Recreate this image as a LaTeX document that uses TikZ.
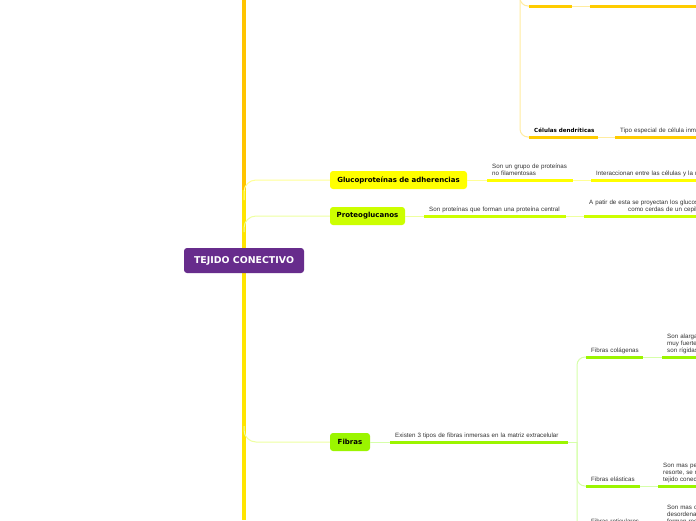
\documentclass[tikz,border=0pt]{standalone}
\usepackage{fontspec}
\setmainfont{Liberation Sans}
\newfontfamily\titlefont{DejaVu Sans}
\definecolor{purp}{RGB}{103,44,140}
\definecolor{trunkO}{RGB}{255,196,0}
\definecolor{trunkY}{RGB}{255,228,0}
\definecolor{cyel}{RGB}{255,255,0}
\definecolor{clime}{RGB}{204,255,0}
\definecolor{cgreen}{RGB}{155,245,0}
\definecolor{corange}{RGB}{255,204,0}
\definecolor{lyel}{RGB}{255,255,150}
\definecolor{llime}{RGB}{238,255,160}
\definecolor{lgreen}{RGB}{214,255,170}
\definecolor{lorange}{RGB}{255,236,160}
\definecolor{txt}{RGB}{51,51,51}
\begin{document}
\begin{tikzpicture}[x=1pt,y=-1pt,
  trunk/.style={line width=4pt},
  conn/.style={line width=1pt},
  bar/.style={line width=3pt},
  topic/.style={rounded corners=3pt, font=\titlefont\fontsize{7}{8}\selectfont\bfseries, text=black, inner sep=0pt, minimum height=18pt},
  sub/.style={anchor=south west, inner xsep=5pt, inner ysep=2.3pt, align=left, text width=#1, font=\fontsize{6.2}{7}\selectfont, text=txt, execute at end node=\strut},
  subb/.style={sub=#1, font=\titlefont\fontsize{5.6}{7}\selectfont\bfseries, text=black},
]
\useasboundingbox[fill=white] (0,0) rectangle (696,520);

% trunk
\coordinate (trTop) at (244,0);
\coordinate (trMid) at (244,190);
\coordinate (trBot) at (244,520);
\draw[trunk, trunkO] (trTop) -- (trMid);
\draw[trunk, trunkY] (trMid) -- (trBot);

% central node
\node[rounded corners=3pt, fill=purp, text=white, font=\titlefont\fontsize{9.4}{10}\selectfont\bfseries, minimum width=120pt, minimum height=25pt, inner sep=0pt] (root) at (244,260.5) {TEJIDO CONECTIVO};

% main topics
\node[topic, fill=cyel, minimum width=137pt] (glu) at (398.5,180) {Glucoproteínas de adherencias};
\node[topic, fill=clime, minimum width=75pt] (pro) at (367.5,216) {Proteoglucanos};
\node[topic, fill=cgreen, minimum width=40pt] (fib) at (350,442) {Fibras};

% trunk connectors
\coordinate (tg) at (244,200);
\coordinate (tp) at (244,232);
\coordinate (tf) at (244,426);
\draw[conn, lyel, rounded corners=12pt] (tg) |- (glu.west);
\draw[conn, llime, rounded corners=12pt] (tp) |- (pro.west);
\draw[conn, llime, rounded corners=12pt] (tf) |- (fib.west);

% Glucoproteinas children
\node[sub=76pt] (g1) at (487,180) {Son un grupo de proteínas\\no filamentosas};
\node[sub=250pt] (g2) at (591,180) {Interaccionan entre las células y la matriz extracelular};
\draw[conn, lyel] (glu.east) -- (g1.south west);
\draw[conn, lyel] (g1.south east) -- (g2.south west);
\draw[bar, cyel] (g1.south west) -- (g1.south east);
\draw[bar, cyel] (g2.south west) -- (g2.south east);

% Proteoglucanos children
\node[sub=132pt] (p1) at (424,216) {Son proteínas que forman una proteína central};
\node[sub=250pt] (p2) at (584,216) {A patir de esta se proyectan los glucosaminoglucanos\\\hspace*{39pt}como cerdas de un cepillo};
\draw[conn, llime] (pro.east) -- (p1.south west);
\draw[conn, llime] (p1.south east) -- (p2.south west);
\draw[bar, clime] (p1.south west) -- (p1.south east);
\draw[bar, clime] (p2.south west) -- (p2.south east);

% Fibras children
\node[sub=168pt] (f1) at (390,442) {Existen 3 tipos de fibras inmersas en la matriz extracelular};
\draw[conn, lgreen] (fib.east) -- (f1.south west);
\draw[bar, cgreen] (f1.south west) -- (f1.south east);
\coordinate (fj) at (577,442);
\node[sub=47pt] (fc) at (586,357) {\mbox{Fibras colágenas}};
\node[sub=44pt] (fe) at (586,486) {\mbox{Fibras elásticas}};
\node[sub=50pt] (fr) at (586,528) {\mbox{Fibras reticulares}};
\draw[conn, lgreen] (f1.south east) -- (fj);
\draw[conn, lgreen, rounded corners=8pt] (fc.south west) -| (fj);
\draw[conn, lgreen, rounded corners=8pt] (fj) |- (fe.south west);
\draw[conn, lgreen, rounded corners=8pt] (fj) |- (fr.south west);
\node[sub=100pt] (fc2) at (662,357) {Son alargadas y\\muy fuertes,\\son rígidas};
\node[sub=100pt] (fe2) at (658,486) {Son mas pequeñas, como un\\resorte, se rompen\\tejido conectivo};
\node[sub=100pt] (fr2) at (662,528) {Son mas cortas y\\desordenadas,\\forman redes};
\draw[conn, lgreen] (fc.south east) -- (fc2.south west);
\draw[conn, lgreen] (fe.south east) -- (fe2.south west);
\draw[conn, lgreen] (fr.south east) -- (fr2.south west);
\foreach \n in {fc,fe,fr,fc2,fe2,fr2} \draw[bar, cgreen] (\n.south west) -- (\n.south east);

% top subtree
\coordinate (tt) at (520,-20);
\node[sub=33pt] (t1) at (529,6) {};
\node[sub=250pt] (t2) at (590,6) {};
\node[subb=59pt] (cd) at (529,137) {\mbox{Células dendríticas}};
\node[sub=250pt] (cd2) at (615,137) {Tipo especial de célula inmunitaria};
\draw[conn, lorange, rounded corners=8pt] (tt) |- (t1.south west);
\draw[conn, lorange, rounded corners=8pt] (tt) |- (cd.south west);
\draw[conn, lorange] (t1.south east) -- (t2.south west);
\draw[conn, lorange] (cd.south east) -- (cd2.south west);
\foreach \n in {t1,t2,cd,cd2} \draw[bar, corange] (\n.south west) -- (\n.south east);
\end{tikzpicture}
\end{document}
